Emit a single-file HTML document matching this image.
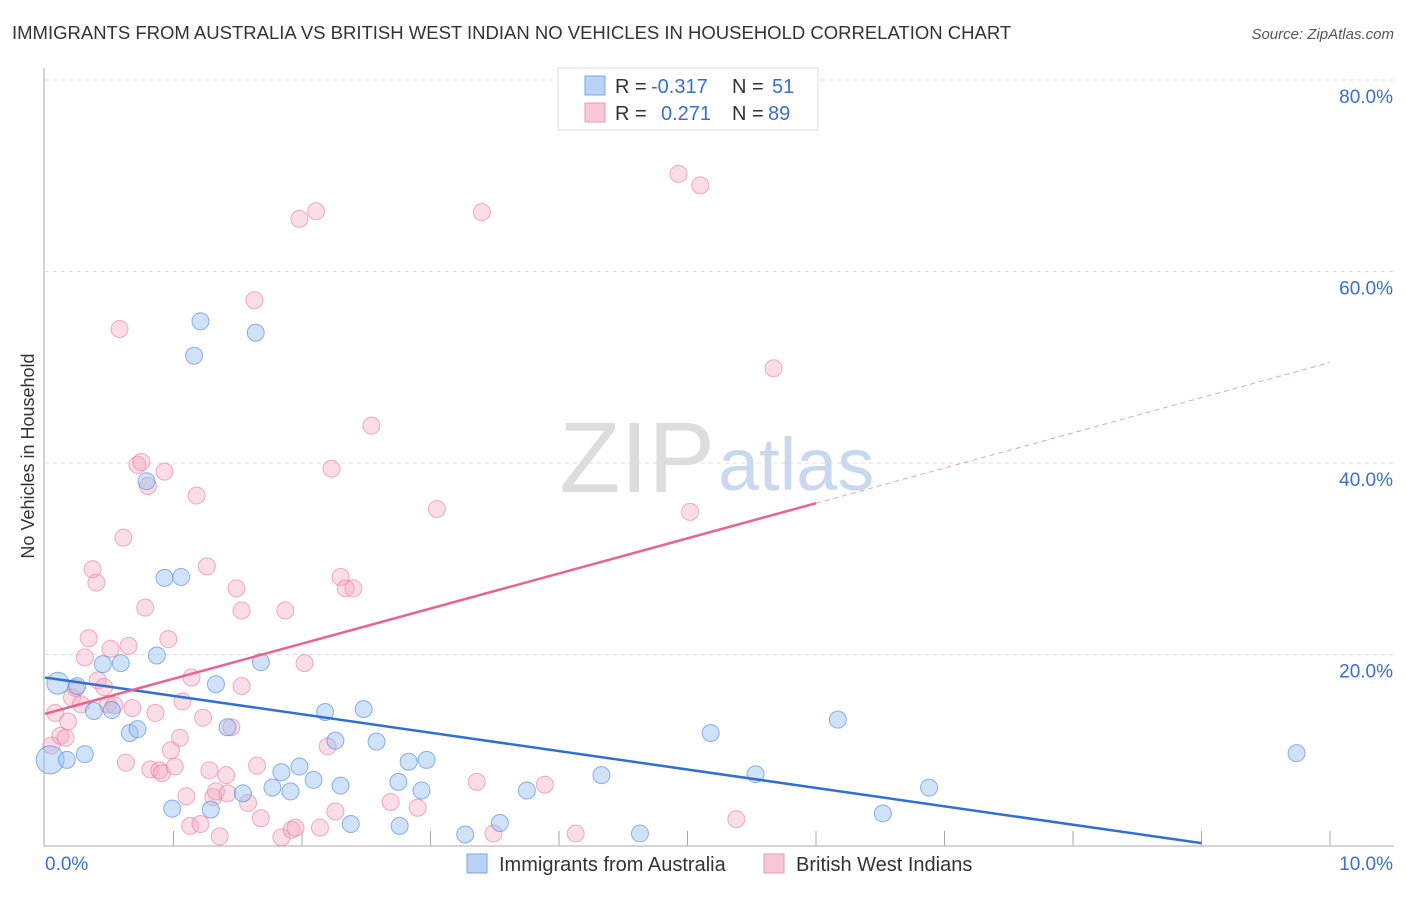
<!DOCTYPE html>
<html><head><meta charset="utf-8"><style>
body{margin:0;background:#fff;font-family:"Liberation Sans",sans-serif;}
svg text{font-family:"Liberation Sans",sans-serif;}
</style></head><body>
<svg id="chart" width="1406" height="892">
<text x="12" y="39" font-size="18.5" fill="#333">IMMIGRANTS FROM AUSTRALIA VS BRITISH WEST INDIAN NO VEHICLES IN HOUSEHOLD CORRELATION CHART</text>
<text x="1394" y="39" font-size="15" fill="#555" font-style="italic" text-anchor="end">Source: ZipAtlas.com</text>
<text x="715" y="492" font-size="100" fill="#ddd" font-family="Liberation Serif" text-anchor="end">ZIP</text>
<text x="718" y="490" font-size="74" fill="#c8d8ee">atlas</text>
<text transform="translate(34,456) rotate(-90)" font-size="18" fill="#333" text-anchor="middle">No Vehicles in Household</text>
<g id="grid"></g><g id="marks"></g>
<g>
<rect x="558" y="68" width="260" height="62" fill="#fff" stroke="#ddd"/>
<rect x="585" y="76" width="20" height="19" fill="#b8d3f5" stroke="#7aa6e6"/>
<rect x="585" y="103" width="20" height="19" fill="#f9c7d6" stroke="#ec9ab3"/>
<text x="615" y="93" font-size="20" fill="#333">R = </text><text x="651" y="93" font-size="20" fill="#3a6fcf">-0.317</text>
<text x="732" y="93" font-size="20" fill="#333">N = </text><text x="772" y="93" font-size="20" fill="#3a6fcf">51</text>
<text x="615" y="120" font-size="20" fill="#333">R = </text><text x="661" y="120" font-size="20" fill="#3a6fcf">0.271</text>
<text x="732" y="120" font-size="20" fill="#333">N = </text><text x="768" y="120" font-size="20" fill="#3a6fcf">89</text>
</g>
<g>
<rect x="467" y="854" width="20" height="19" fill="#b8d3f5" stroke="#7aa6e6"/>
<text x="499" y="871" font-size="20" fill="#333">Immigrants from Australia</text>
<rect x="764" y="854" width="20" height="19" fill="#f9c7d6" stroke="#ec9ab3"/>
<text x="796" y="871" font-size="20" fill="#333">British West Indians</text>
</g>
</svg>
<script>
const xTicks=[0,1,2,3,4,5,6,7,8,9,10];
const yTicks=[20,40,60,80];
const blueX=[0.04,0.1,0.17,0.25,0.31,0.38,0.45,0.52,0.59,0.66,0.72,0.79,0.87,0.93,0.99,1.06,1.16,1.21,1.29,1.33,1.42,1.54,1.64,1.68,1.77,1.84,1.91,1.98,2.09,2.18,2.26,2.3,2.38,2.48,2.58,2.76,2.75,2.83,2.93,2.97,3.27,3.54,3.75,4.33,4.63,5.18,5.53,6.17,6.52,6.88,9.74];
const blueY=[9.0,17.0,9.0,16.7,9.6,14.1,19.0,14.2,19.1,11.8,12.2,38.1,19.9,28.0,3.9,28.1,51.2,54.8,3.8,16.9,12.4,5.5,53.6,19.2,6.1,7.7,5.7,8.3,6.9,14.0,11.0,6.3,2.3,14.3,10.9,2.1,6.7,8.8,5.8,9.0,1.2,2.4,5.8,7.4,1.3,11.8,7.5,13.2,3.4,6.1,9.7];
const pinkX=[0.05,0.08,0.12,0.16,0.18,0.21,0.24,0.28,0.31,0.34,0.37,0.40,0.41,0.46,0.49,0.51,0.54,0.58,0.61,0.63,0.65,0.68,0.72,0.75,0.78,0.80,0.82,0.86,0.89,0.91,0.93,0.96,0.98,1.01,1.05,1.07,1.10,1.13,1.14,1.18,1.21,1.23,1.26,1.28,1.31,1.33,1.36,1.41,1.42,1.45,1.49,1.53,1.53,1.58,1.63,1.65,1.68,1.84,1.87,1.92,1.95,1.98,2.02,2.11,2.14,2.20,2.23,2.26,2.30,2.34,2.40,2.54,2.69,2.90,3.05,3.36,3.40,3.49,3.89,4.13,4.93,5.02,5.10,5.38,5.67];
const pinkY=[10.5,13.9,11.5,11.3,13.0,15.5,16.5,14.8,19.7,21.7,28.9,27.5,17.3,16.6,14.8,20.6,14.7,54.0,32.2,8.7,20.9,14.4,39.8,40.1,24.9,37.6,8.0,13.9,7.9,7.6,39.1,21.6,10.0,8.3,11.3,15.1,5.2,2.1,17.6,36.6,2.3,13.4,29.2,7.9,5.1,5.7,1.0,7.4,5.5,12.4,26.9,24.6,16.7,4.5,57.0,8.4,2.9,0.9,24.6,1.7,1.9,65.5,19.1,66.3,1.9,10.4,39.4,3.6,28.1,26.9,26.9,43.9,4.6,4.0,35.2,6.7,66.2,1.3,6.4,1.3,70.2,34.9,69.0,2.8,49.9];
const blueLine=[0,17.6,9,0.3];
const pinkLine=[0,13.8,6,35.8,10,50.5];
const X=v=>45+v*128.5, Y=v=>846-v*9.575;
const NS="http://www.w3.org/2000/svg";
function mk(p,t,a){const e=document.createElementNS(NS,t);for(const k in a)e.setAttribute(k,a[k]);p.appendChild(e);return e;}
const grid=document.getElementById('grid'), marks=document.getElementById('marks');
yTicks.forEach(t=>{
 const l=mk(grid,'line',{x1:45,x2:1394,y1:Y(t),y2:Y(t),stroke:'#ddd','stroke-dasharray':'4,4'});
 
 
 const tx=mk(grid,'text',{x:1393,y:Y(t)+23,'font-size':19,fill:'#3a6fcf','text-anchor':'end'});tx.textContent=t.toFixed(1)+'%';
 
 
});
mk(grid,'line',{x1:44,x2:44,y1:68,y2:846,stroke:'#aaa'});
mk(grid,'line',{x1:44,x2:1394,y1:846,y2:846,stroke:'#aaa'});
xTicks.forEach(t=>{if(t>0){const l=mk(grid,'line',{x1:X(t),x2:X(t),y1:831,y2:846,stroke:'#aaa'});
 
 }});
[[0,45,'start'],[10,1393,'end']].forEach(([t,x,a])=>{const tx=mk(grid,'text',{x:x,y:870,'font-size':19,fill:'#3a6fcf','text-anchor':a});tx.textContent=t.toFixed(1)+'%';
 
 });
pinkX.forEach((x,i)=>{const c=mk(marks,'circle',{cx:X(x),cy:Y(pinkY[i]),r:8.5,fill:'rgba(245,170,195,0.4)',stroke:'rgba(230,120,155,0.6)'});
 
 });
blueX.forEach((x,i)=>{const r=i==0?14:(i==1?11:8.5);const c=mk(marks,'circle',{cx:X(x),cy:Y(blueY[i]),r:r,fill:'rgba(150,190,240,0.45)',stroke:'rgba(70,130,220,0.6)'});
 
 });
let l=mk(marks,'line',{x1:X(blueLine[0]),y1:Y(blueLine[1]),x2:X(blueLine[2]),y2:Y(blueLine[3]),stroke:'#2f6fd6','stroke-width':2.5});


l=mk(marks,'line',{x1:X(pinkLine[0]),y1:Y(pinkLine[1]),x2:X(pinkLine[2]),y2:Y(pinkLine[3]),stroke:'#e8648f','stroke-width':2.5});


l=mk(marks,'line',{x1:X(pinkLine[2]),y1:Y(pinkLine[3]),x2:X(pinkLine[4]),y2:Y(pinkLine[5]),stroke:'#e8a0b8','stroke-width':1,'stroke-dasharray':'5,4'});


</script>
</body></html>
